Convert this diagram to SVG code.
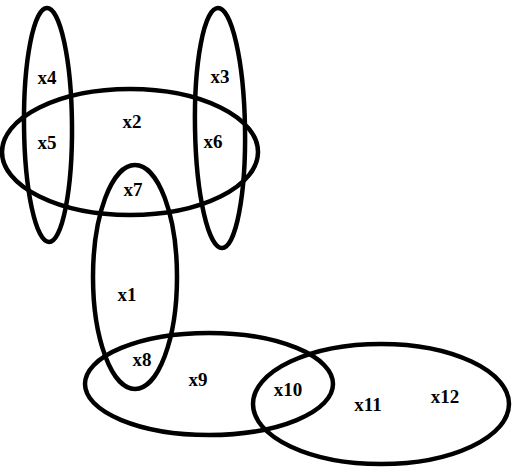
<svg xmlns="http://www.w3.org/2000/svg" width="518" height="472" viewBox="0 0 518 472">
<style>
.e{fill:none;stroke:#000;stroke-width:4.5}
.t{font-family:"Liberation Serif",serif;font-weight:bold;font-size:19px;text-anchor:middle;fill:#000}
</style>
<rect width="518" height="472" fill="#fff"/>
<g id="edges">
<ellipse id="eA" class="e" cx="48" cy="125" rx="24" ry="117" transform="rotate(-0.5 48 125)"/>
<ellipse id="eB" class="e" cx="220" cy="128" rx="25" ry="120" transform="rotate(-1 220 128)"/>
<ellipse id="eC" class="e" cx="130" cy="152" rx="128" ry="63"/>
<ellipse id="eD" class="e" cx="135" cy="277" rx="42" ry="112"/>
<ellipse id="eE" class="e" cx="209" cy="384" rx="124" ry="51"/>
<ellipse id="eF" class="e" cx="381" cy="404" rx="128" ry="60"/>
</g>
<g id="n4"><text class="t" x="47" y="84">x4</text></g>
<g id="n3"><text class="t" x="220" y="83">x3</text></g>
<g id="n2"><text class="t" x="132" y="128">x2</text></g>
<g id="n5"><text class="t" x="47" y="149">x5</text></g>
<g id="n6"><text class="t" x="213" y="148">x6</text></g>
<g id="n7"><text class="t" x="133" y="196">x7</text></g>
<g id="n1"><text class="t" x="127" y="301">x1</text></g>
<g id="n8"><text class="t" x="142" y="366">x8</text></g>
<g id="n9"><text class="t" x="198" y="386">x9</text></g>
<g id="n10"><text class="t" x="288" y="396">x10</text></g>
<g id="n11"><text class="t" x="368" y="411">x11</text></g>
<g id="n12"><text class="t" x="445" y="403">x12</text></g>
</svg>
